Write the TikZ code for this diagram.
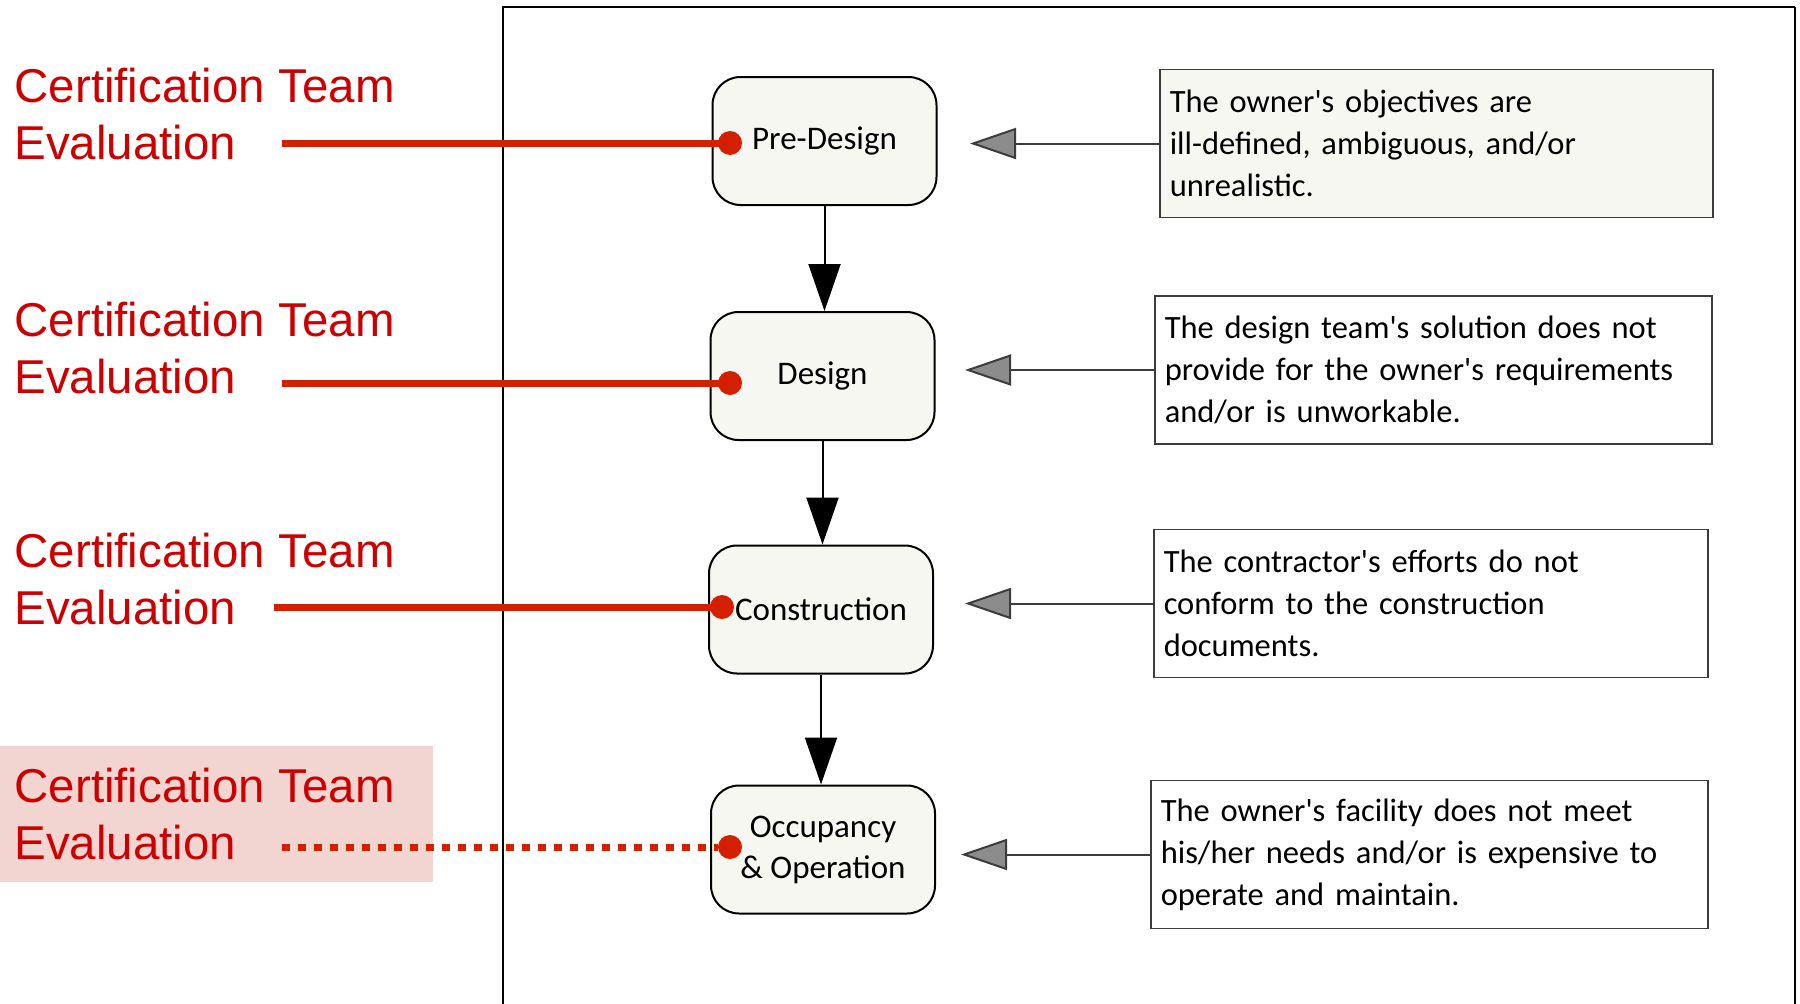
\documentclass[tikz,border=0pt]{standalone}
\usepackage{fontspec}
\setmainfont{Liberation Sans}
\newfontfamily\handfont[Ligatures=TeXOff]{Carlito}
\usetikzlibrary{arrows.meta}

\definecolor{certred}{RGB}{204,0,0}
\definecolor{linered}{RGB}{212,32,0}
\definecolor{hilite}{RGB}{242,212,208}
\definecolor{boxfill}{RGB}{247,247,242}
\definecolor{notegray}{RGB}{60,60,60}
\definecolor{tipgray}{RGB}{140,140,140}

\tikzset{every picture/.style={line width=1pt}}
\tikzset{
  certlabel/.style={anchor=base west, inner sep=0pt, align=left, text=certred, font=\fontsize{47.5}{57}\selectfont},
  certline/.style={draw=linered, line width=7pt},
  certdot/.style={circle, fill=linered, inner sep=0pt, minimum size=24pt},
  stage/.style={draw, line width=2pt, rounded corners=28pt, fill=boxfill, minimum width=224pt, minimum height=128pt, align=center, font=\handfont\fontsize{33}{41}\selectfont},
  note/.style={draw=notegray, line width=1.5pt, anchor=west, inner xsep=10pt, inner ysep=0pt, minimum height=148pt, align=left, font=\handfont\fontsize{32.5}{42}\selectfont},
  flow/.style={line width=2pt, -{Triangle[length=47pt,width=32pt]}},
  feedback/.style={draw=notegray, line width=2pt, -{Triangle[length=46pt,width=31pt,fill=tipgray]}}
}

\begin{document}
\begin{tikzpicture}[x=1pt,y=1pt,yscale=-1,xscale=1]
\useasboundingbox (0,0) rectangle (1800,1004);

%Shape: Frame
\draw [line width=1.5pt] (503,1004) -- (503,7) -- (1795,7) ;
\draw [line width=2.5pt] (1795,7) -- (1795,1004) ;
%Shape: Highlight
\fill [hilite] (0,746) rectangle (433,882) ;

% Text Node
\draw (14,159) node [certlabel] (lab1) {Certification Team\\Evaluation};
% Text Node
\draw (14,393) node [certlabel] (lab2) {Certification Team\\Evaluation};
% Text Node
\draw (14,624) node [certlabel] (lab3) {Certification Team\\Evaluation};
% Text Node
\draw (14,859) node [certlabel] (lab4) {Certification Team\\Evaluation};

%Shape: Rounded Rect
\draw (824.5,141) node [stage] (pd) {Pre-Design};
%Shape: Rounded Rect
\draw (822.5,376) node [stage] (ds) {Design};
%Shape: Rounded Rect
\draw (821,609.5) node [stage] (cn) {Construction};
%Shape: Rounded Rect
\draw (823,849.5) node [stage] (oo) {Occupancy\\\& Operation};

%Shape: Rect
\draw (1159,143.5) node [note, fill=boxfill, text width=533pt] (d1) {The owner's objectives are\\ill-defined, ambiguous, and/or\\unrealistic.};
%Shape: Rect
\draw (1154,370) node [note, text width=537pt] (d2) {The design team's solution does not\\provide for the owner's requirements\\and/or is unworkable.};
%Shape: Rect
\draw (1153,603.5) node [note, text width=534pt] (d3) {The contractor's efforts do not\\conform to the construction\\documents.};
%Shape: Rect
\draw (1150,854.5) node [note, text width=537pt] (d4) {The owner's facility does not meet\\his/her needs and/or is expensive to\\operate and maintain.};

%Straight Lines
\draw [flow] (pd.south) -- (pd.south |- ds.north) ;
\draw [flow] (ds.south) -- (ds.south |- cn.north) ;
\draw [flow] (cn.south) -- (cn.south |- oo.north) ;

\coordinate (t1) at (970,0) ;
\coordinate (t2) at (965,0) ;
\coordinate (t3) at (965,0) ;
\coordinate (t4) at (961,0) ;
\draw [feedback] (d1.west) -- (d1.west -| t1) ;
\draw [feedback] (d2.west) -- (d2.west -| t2) ;
\draw [feedback] (d3.west) -- (d3.west -| t3) ;
\draw [feedback] (d4.west) -- (d4.west -| t4) ;

%Straight Lines
\coordinate (s1) at (282,143) ;
\coordinate (s2) at (282,383) ;
\coordinate (s3) at (274,607) ;
\coordinate (s4) at (282,847) ;
\node [certdot] (dot1) at (730,143) {};
\node [certdot] (dot2) at (730,383) {};
\node [certdot] (dot3) at (722,607) {};
\node [certdot] (dot4) at (730,847) {};
\draw [certline] (s1) -- (dot1.center) ;
\draw [certline] (s2) -- (dot2.center) ;
\draw [certline] (s3) -- (dot3.center) ;
\draw [certline, dash pattern=on 8pt off 8pt] (s4) -- (dot4.west) ;

\end{tikzpicture}
\end{document}
